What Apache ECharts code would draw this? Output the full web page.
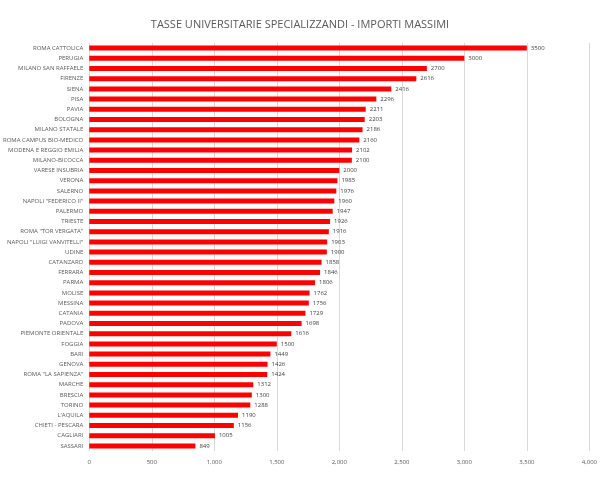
<!DOCTYPE html><html><head><meta charset="utf-8"><script src="https://cdn.jsdelivr.net/npm/echarts@6/dist/echarts.min.js"></script></head><body style="margin:0;background:#fff"><div id="c" style="width:600px;height:480px"></div><script>
const categories=["ROMA CATTOLICA","PERUGIA","MILANO SAN RAFFAELE","FIRENZE","SIENA","PISA","PAVIA","BOLOGNA","MILANO STATALE","ROMA CAMPUS BIO-MEDICO","MODENA E REGGIO EMILIA","MILANO-BICOCCA","VARESE INSUBRIA","VERONA","SALERNO","NAPOLI \"FEDERICO II\"","PALERMO","TRIESTE","ROMA \"TOR VERGATA\"","NAPOLI \"LUIGI VANVITELLI\"","UDINE","CATANZARO","FERRARA","PARMA","MOLISE","MESSINA","CATANIA","PADOVA","PIEMONTE ORIENTALE","FOGGIA","BARI","GENOVA","ROMA \"LA SAPIENZA\"","MARCHE","BRESCIA","TORINO","L'AQUILA","CHIETI - PESCARA","CAGLIARI","SASSARI"];
const values=[3500,3000,2700,2616,2416,2296,2211,2203,2186,2160,2102,2100,2000,1985,1976,1960,1947,1926,1916,1903,1900,1858,1846,1806,1762,1756,1729,1698,1616,1500,1449,1426,1424,1312,1300,1288,1190,1156,1005,849];
const c=echarts.init(document.getElementById('c'));
c.setOption({animation:false,
title:{text:'TASSE UNIVERSITARIE SPECIALIZZANDI - IMPORTI MASSIMI',left:'center',top:14,textStyle:{fontFamily:'Open Sans',fontSize:11,fontWeight:'normal',color:'#595959'}},
grid:{left:85,right:5,top:43,bottom:29},
xAxis:{type:'value',min:0,max:4000,interval:500,axisLabel:{fontSize:6,color:'#595959',fontFamily:'Open Sans'},splitLine:{lineStyle:{color:'#d9d9d9'}},axisLine:{show:false},axisTick:{show:false}},
yAxis:{type:'category',inverse:true,data:categories,axisLabel:{fontSize:6,color:'#595959',fontFamily:'Open Sans',margin:6},axisLine:{show:false},axisTick:{show:false}},
series:[{type:'bar',data:values,barWidth:5,itemStyle:{color:'#ff0000'},label:{show:true,position:'right',fontSize:6,color:'#404040',fontFamily:'Open Sans',distance:4}}]});
</script></body></html>
